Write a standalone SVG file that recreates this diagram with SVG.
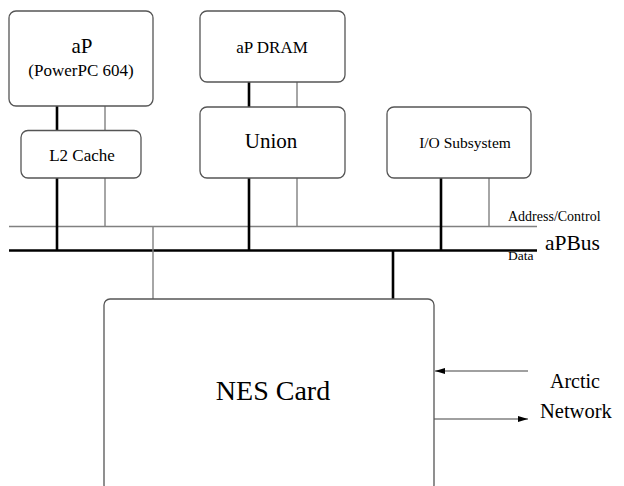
<svg xmlns="http://www.w3.org/2000/svg" width="624" height="486" viewBox="0 0 624 486">
<defs>
<style>
.box{fill:#fff;stroke:#555;stroke-width:1.3}
.thin{stroke:#808080;stroke-width:1.4;fill:none}
.thick{stroke:#000;stroke-width:2.6;fill:none}
.t{font-family:"Liberation Serif","Times New Roman",serif;fill:#000}
.m{text-anchor:middle}
</style>
<marker id="ah" viewBox="0 0 10 6" refX="10" refY="3" markerWidth="10" markerHeight="6" markerUnits="userSpaceOnUse" orient="auto">
<path d="M0,0 L10,3 L0,6 Z" fill="#000"/>
</marker>
</defs>
<g id="connectors">
<line class="thin" x1="9" y1="226.5" x2="537" y2="226.5"/>
<line class="thick" x1="9" y1="250.5" x2="537" y2="250.5"/>
<line class="thick" x1="57" y1="106" x2="57" y2="130"/>
<line class="thin" x1="105" y1="106" x2="105" y2="130"/>
<line class="thick" x1="57" y1="178" x2="57" y2="250.5"/>
<line class="thin" x1="105" y1="178" x2="105" y2="226.5"/>
<line class="thick" x1="249" y1="82" x2="249" y2="107"/>
<line class="thin" x1="297" y1="82" x2="297" y2="107"/>
<line class="thick" x1="249" y1="178" x2="249" y2="250.5"/>
<line class="thin" x1="297" y1="178" x2="297" y2="226.5"/>
<line class="thick" x1="441" y1="178" x2="441" y2="250.5"/>
<line class="thin" x1="489" y1="178" x2="489" y2="226.5"/>
<line class="thin" x1="153" y1="226.5" x2="153" y2="299"/>
<line class="thick" x1="393" y1="250.5" x2="393" y2="299"/>
<line class="thin" x1="528" y1="371" x2="435" y2="371" marker-end="url(#ah)"/>
<line class="thin" x1="434" y1="419" x2="528" y2="419" marker-end="url(#ah)"/>
</g>
<g id="ap">
<rect class="box" x="9" y="11" width="144" height="95" rx="7"/>
<text class="t m" x="82" y="53" font-size="21">aP</text>
<text class="t m" x="81" y="76" font-size="17">(PowerPC 604)</text>
</g>
<g id="l2cache">
<rect class="box" x="21" y="130.5" width="120" height="47.5" rx="7"/>
<text class="t m" x="82" y="160.5" font-size="17">L2 Cache</text>
</g>
<g id="apdram">
<rect class="box" x="200" y="11" width="145" height="71" rx="7"/>
<text class="t m" x="272" y="52.5" font-size="17">aP DRAM</text>
</g>
<g id="union">
<rect class="box" x="200" y="107" width="145" height="71" rx="7"/>
<text class="t m" x="271" y="148" font-size="21">Union</text>
</g>
<g id="io">
<rect class="box" x="387" y="107" width="144" height="71" rx="7"/>
<text class="t m" x="465" y="148" font-size="15.5">I/O Subsystem</text>
</g>
<g id="nes">
<rect class="box" x="104" y="299" width="330" height="192" rx="6"/>
<text class="t m" x="273" y="400" font-size="28">NES Card</text>
</g>
<g id="labels">
<text class="t" x="508" y="220.5" font-size="14">Address/Control</text>
<text class="t" x="545" y="250" font-size="21.5">aPBus</text>
<text class="t" x="508" y="259.5" font-size="13.5">Data</text>
<text class="t m" x="575" y="388" font-size="20">Arctic</text>
<text class="t" x="540" y="418" font-size="20.5">Network</text>
</g>
</svg>
